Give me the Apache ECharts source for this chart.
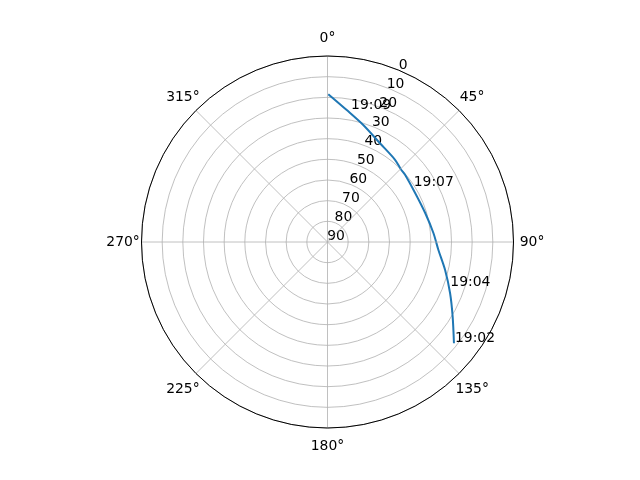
<!DOCTYPE html>
<html>
<head>
<meta charset="utf-8">
<script src="https://cdn.jsdelivr.net/npm/echarts@6/dist/echarts.min.js"></script>
<style>html,body{margin:0;padding:0;background:#fff;}#chart{width:640px;height:480px;}</style>
</head>
<body>
<div id="chart"></div>
<script>
// Satellite pass: azimuth (deg, clockwise from north) and elevation (deg)
const passAzimuth   = [128.7, 120.8, 112.7, 103.4, 94.1, 85.0, 73.3, 60.6, 48.9, 45.2, 39.4, 28.0, 17.0, 8.3, 0.3];
const passElevation = [11.6, 19.5, 25.7, 31.5, 36.2, 38.6, 40.7, 41.4, 40.3, 40.0, 38.5, 35.9, 30.8, 25.5, 18.5];

// Time annotations
const timeLabels     = ['19:02', '19:04', '19:07', '19:09'];
const labelAzimuth   = [128.7, 110.4, 57.3, 9.7];
const labelElevation = [11.6, 27.1, 41.0, 25.2];

// Axes
const angleMin = 0, angleMax = 360, angleStep = 45;
const elevMin = 0, elevMax = 90, elevStep = 10;

const FONT = 'DejaVu Sans';
const FS = 13.9;
const cx = 327.5, cy = 242, R = 186;

// per-direction padding so angle labels sit centred on a ring like matplotlib
const anglePad = {
  0:   [0, 0, 17, 0],
  45:  [0, 0, 10.3, 5.0],
  90:  [0, 0, 0, 12.2],
  135: [13.3, 0, 0, 0.6],
  180: [17, 0, 0, 0],
  225: [13.3, 0.6, 0, 0],
  270: [0, 7.75, 0, 0],
  315: [0, 0.6, 10.3, 0]
};
const angleRich = {};
Object.keys(anglePad).forEach(k => {
  angleRich['a' + k] = {padding: anglePad[k], fontSize: FS, fontFamily: FONT, color: '#000'};
});

const chart = echarts.init(document.getElementById('chart'), null, {renderer: 'canvas'});

const lineData = passAzimuth.map((a, i) => [passElevation[i], a]);
const labelData = timeLabels.map((t, i) => [labelElevation[i], labelAzimuth[i], t]);

chart.setOption({
  backgroundColor: '#ffffff',
  animation: false,
  textStyle: {fontFamily: FONT},
  polar: [
    {center: [cx, cy], radius: R},
    {center: [cx + 8.5, cy - 6], radius: R - 3}
  ],
  angleAxis: [
    {
      polarIndex: 0, type: 'value', min: angleMin, max: angleMax, interval: angleStep,
      startAngle: 90, clockwise: true, z: 5,
      axisLine: {show: true, lineStyle: {color: '#000', width: 1}},
      axisTick: {show: false},
      axisLabel: {
        formatter: v => '{a' + v + '|' + v + '°}',
        rich: angleRich,
        color: '#000', fontSize: FS, fontFamily: FONT, margin: -6
      },
      splitLine: {show: true, lineStyle: {color: '#b0b0b0', width: 0.8}}
    },
    {
      polarIndex: 1, type: 'value', min: angleMin, max: angleMax, startAngle: 68.5, show: false
    }
  ],
  radiusAxis: [
    {
      polarIndex: 0, type: 'value', min: elevMin, max: elevMax, interval: elevStep, inverse: true,
      axisLine: {show: false}, axisTick: {show: false}, axisLabel: {show: false},
      splitLine: {show: true, lineStyle: {color: '#b0b0b0', width: 0.8}}
    },
    {
      polarIndex: 1, type: 'value', min: elevMin, max: elevMax, interval: elevStep, inverse: true,
      axisLine: {show: false}, axisTick: {show: false}, splitLine: {show: false},
      axisLabel: {show: true, color: '#000', fontSize: FS, fontFamily: FONT, margin: 0,
                  align: 'center', verticalAlign: 'middle', showMinLabel: true, showMaxLabel: true}
    }
  ],
  series: [
    {
      type: 'line', coordinateSystem: 'polar', polarIndex: 0,
      data: lineData, showSymbol: false, smooth: 0.3, z: 3,
      lineStyle: {color: '#1f77b4', width: 2}
    },
    {
      type: 'scatter', coordinateSystem: 'polar', polarIndex: 0,
      data: labelData, symbolSize: 0, z: 4,
      itemStyle: {opacity: 1, color: 'rgba(0,0,0,0)'},
      label: {show: true, position: 'right', distance: 1, offset: [0, -5], opacity: 1,
              formatter: p => p.value[2], color: '#000', fontSize: FS, fontFamily: FONT}
    }
  ]
});
</script>
</body>
</html>
